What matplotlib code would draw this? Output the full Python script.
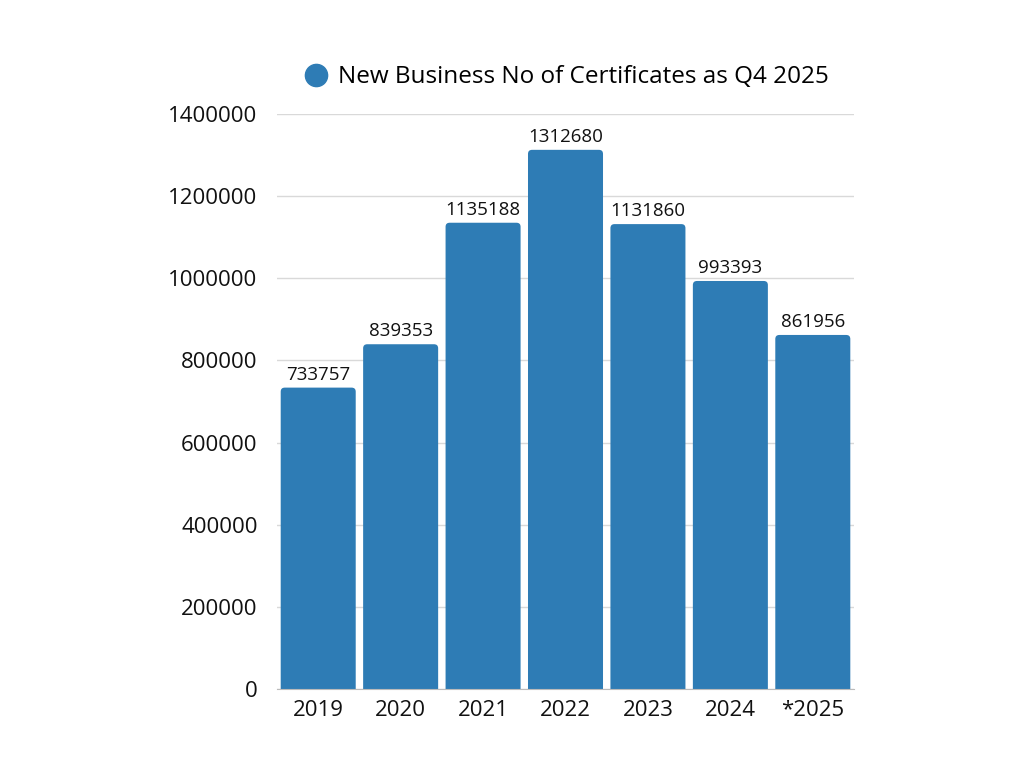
import matplotlib.pyplot as plt
from matplotlib.patches import FancyBboxPatch
from matplotlib.lines import Line2D

years = ['2019', '2020', '2021', '2022', '2023', '2024', '*2025']
certs = [733757, 839353, 1135188, 1312680, 1131860, 993393, 861956]
series_name = 'New Business No of Certificates as Q4 2025'

plt.rcParams['font.family'] = ['Open Sans', 'DejaVu Sans']
color = '#2e7cb5'

fig = plt.figure(figsize=(10.24, 7.68), dpi=100)
ax = fig.add_axes([0.2705, 0.1029, 0.5635, 0.7487])

bars = ax.bar(range(len(years)), certs, width=0.91, color=color, zorder=3)

# swap the plain bars for ones with slightly rounded corners
# (bottom corners pushed below zero so the axes clip them away)
for b in bars:
    b.set_visible(False)
    x, w, h = b.get_x(), b.get_width(), b.get_height()
    p = FancyBboxPatch((x, -30000), w, h + 30000,
                       boxstyle='round,pad=0,rounding_size=0.05',
                       mutation_aspect=195000, fc=color, ec='none', zorder=3)
    ax.add_patch(p)

for i, v in enumerate(certs):
    ax.text(i, v + 10000, str(v), ha='center', va='bottom', fontsize=13.5, color='#111111')

ax.set_xlim(-0.5, len(years) - 0.5)
ax.set_ylim(0, 1400000)
ax.set_yticks(range(0, 1400001, 200000))
ax.set_yticklabels([str(v) for v in range(0, 1400001, 200000)])
ax.set_xticks(range(len(years)))
ax.set_xticklabels(years)
ax.tick_params(axis='both', length=0, labelsize=16, colors='#111111')
ax.tick_params(axis='y', pad=14)
ax.tick_params(axis='x', pad=8)
ax.grid(axis='y', color='#d9d9d9', linewidth=1, zorder=0)
for s in ['top', 'right', 'left']:
    ax.spines[s].set_visible(False)
ax.spines['bottom'].set_color('#bbbbbb')
ax.spines['bottom'].set_zorder(4)

handle = Line2D([], [], marker='o', linestyle='none', color=color, markersize=16)
ax.legend([handle], [series_name], loc='lower center', bbox_to_anchor=(0.5, 1.005),
          frameon=False, fontsize=17.5, handletextpad=0.3, handlelength=1.2)

fig.savefig('out.png', dpi=100)
